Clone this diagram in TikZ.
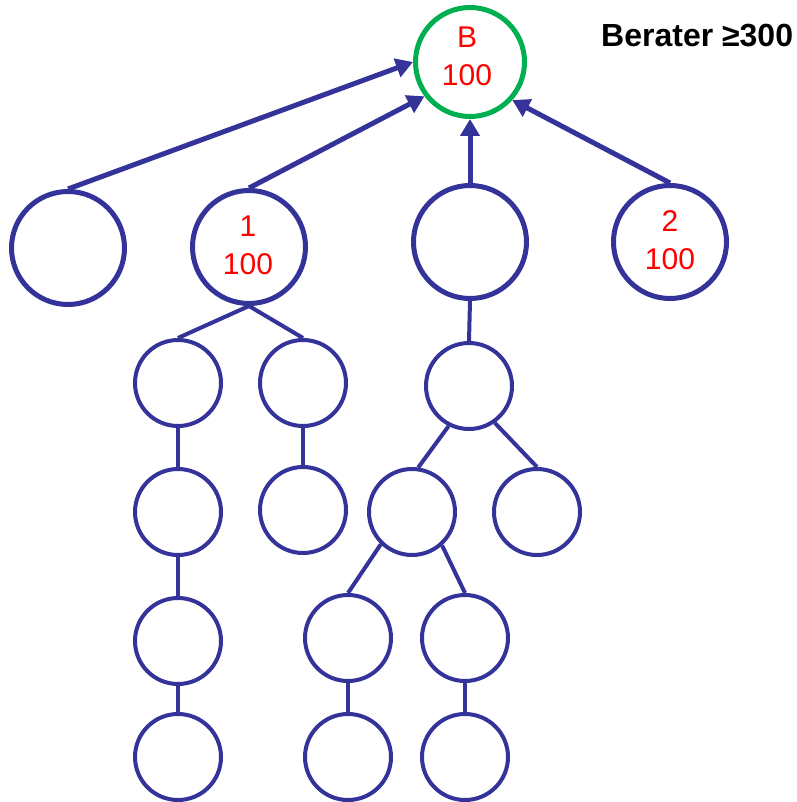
\documentclass[tikz,border=0pt]{standalone}
\usepackage{fontspec}
\setmainfont{Liberation Sans}
\usetikzlibrary{arrows.meta}
\definecolor{nblue}{RGB}{51,51,153}
\definecolor{ngreen}{RGB}{0,176,80}
\begin{document}
\begin{tikzpicture}[x=1pt,y=-1pt,
  rootnode/.style={circle,draw=ngreen,line width=5pt,minimum size=109pt,inner sep=0pt},
  bignode/.style={circle,draw=nblue,line width=5pt,minimum size=113pt,inner sep=0pt},
  smallnode/.style={circle,draw=nblue,line width=4pt,minimum size=86pt,inner sep=0pt},
  lbl/.style={text=red,font=\fontsize{30}{38}\selectfont,align=center,inner sep=0pt},
  arr/.style={draw=nblue,line width=5pt,-{Triangle[length=17pt,width=19pt]}},
  lnk/.style={draw=nblue,line width=4pt}]
\useasboundingbox (0,0) rectangle (796,802);
\fill[white] (0,0) rectangle (796,802);
% nodes
\node[rootnode] (B) at (470,62) {};
\node[lbl] (Bt) at (467,56) {B\\100};
\node[bignode] (L1) at (68,248) {};
\node[bignode] (L2) at (249,247) {};
\node[lbl] (L2t) at (248,245) {1\\100};
\node[bignode] (L3) at (470,242) {};
\node[bignode] (L4) at (670,242) {};
\node[lbl] (L4t) at (670,240) {2\\100};
\node[smallnode] (A1) at (178,383) {};
\node[smallnode] (A2) at (303,383) {};
\node[smallnode] (C1) at (469,386) {};
\node[smallnode] (A1b) at (178,512) {};
\node[smallnode] (A2b) at (303,510) {};
\node[smallnode] (C2) at (412,512) {};
\node[smallnode] (C3) at (537,512) {};
\node[smallnode] (A1c) at (178,641) {};
\node[smallnode] (A1d) at (178,757) {};
\node[smallnode] (C2a) at (348,638) {};
\node[smallnode] (C2b) at (348,757) {};
\node[smallnode] (C2c) at (465,638) {};
\node[smallnode] (C2d) at (465,757) {};
\node[font=\bfseries\fontsize{32}{38}\selectfont,anchor=base west,inner sep=0pt] (title) at (601,47) {Berater ≥300};
% arrows
\draw[arr] (L1.north) -- (B.west);
\draw[arr] (L2.north) -- (B.-143);
\draw[arr] (L3.north) -- (B.south);
\draw[arr] (L4.north) -- (B.-42);
% links
\draw[lnk] (L2.south) -- (A1.north);
\draw[lnk] (L2.south) -- (A2.north);
\draw[lnk] (L3.south) -- (C1.north);
\draw[lnk] (A1.south) -- (A1b.north);
\draw[lnk] (A2.south) -- (A2b.north);
\draw[lnk] (C1.-117) -- (C2.82);
\draw[lnk] (C1.-55) -- (C3.north);
\draw[lnk] (C2.-134) -- (C2a.north);
\draw[lnk] (C2.-48) -- (C2c.north);
\draw[lnk] (A1b.south) -- (A1c.north);
\draw[lnk] (A1c.south) -- (A1d.north);
\draw[lnk] (C2a.south) -- (C2b.north);
\draw[lnk] (C2c.south) -- (C2d.north);
\end{tikzpicture}
\end{document}
